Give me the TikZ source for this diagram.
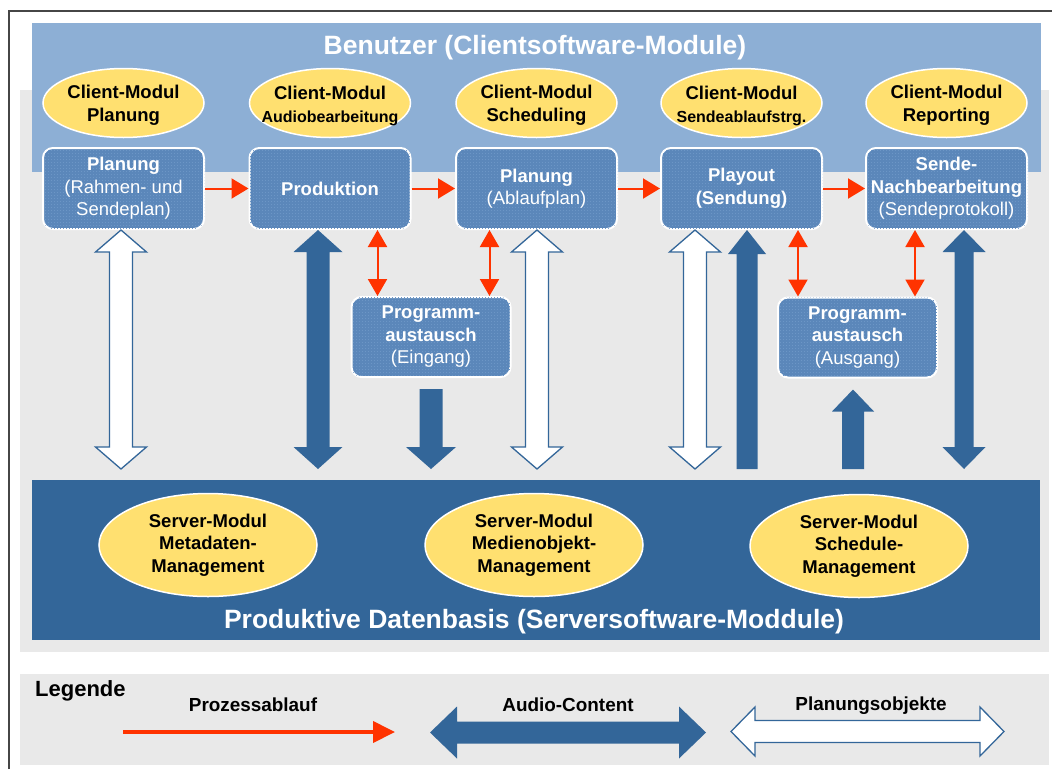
\documentclass[tikz,border=0pt]{standalone}
\usepackage{fontspec}
\setmainfont{Liberation Sans}
\usetikzlibrary{arrows.meta,calc,shapes.geometric,patterns.meta}

\definecolor{topblue}{RGB}{141,175,213}
\definecolor{boxblue}{RGB}{91,135,186}
\definecolor{boxdot}{RGB}{108,150,198}
\definecolor{darkblue}{RGB}{51,102,153}
\definecolor{modyellow}{RGB}{255,224,112}
\definecolor{panelgray}{RGB}{233,233,233}
\definecolor{flowred}{RGB}{255,51,0}
\definecolor{framegray}{RGB}{70,70,70}

% fine dot texture of the step boxes
\tikzdeclarepattern{name=finedots, type=uncolored,
  bounding box={(0pt,0pt) and (2.5pt,2.5pt)}, tile size={(2.5pt,2.5pt)},
  code={\pgfpathrectangle{\pgfpoint{0pt}{0pt}}{\pgfpoint{0.9pt}{0.9pt}}\pgfusepath{fill}}}

% vertical double arrow: style, top point, bottom point, shaft half width, head half width, head length
\newcommand\dblvarrow[6]{%
  \path[#1] let \p1=(#2), \p2=(#3) in
    (\x1,\y1) -- (\x1+#5,\y1-#6) -- (\x1+#4,\y1-#6) -- (\x1+#4,\y2+#6)
    -- (\x1+#5,\y2+#6) -- (\x1,\y2) -- (\x1-#5,\y2+#6) -- (\x1-#4,\y2+#6)
    -- (\x1-#4,\y1-#6) -- (\x1-#5,\y1-#6) -- cycle;}
% vertical arrow pointing down, flat end at the top point
\newcommand\downvarrow[6]{%
  \path[#1] let \p1=(#2), \p2=(#3) in
    (\x1-#4,\y1) -- (\x1+#4,\y1) -- (\x1+#4,\y2+#6) -- (\x1+#5,\y2+#6)
    -- (\x1,\y2) -- (\x1-#5,\y2+#6) -- (\x1-#4,\y2+#6) -- cycle;}
% vertical arrow pointing up, flat end at the bottom point
\newcommand\upvarrow[6]{%
  \path[#1] let \p1=(#2), \p2=(#3) in
    (\x1,\y1) -- (\x1+#5,\y1-#6) -- (\x1+#4,\y1-#6) -- (\x1+#4,\y2)
    -- (\x1-#4,\y2) -- (\x1-#4,\y1-#6) -- (\x1-#5,\y1-#6) -- cycle;}
% horizontal double arrow: style, left point, right point, shaft half height, head half height, head length
\newcommand\dblharrow[6]{%
  \path[#1] let \p1=(#2), \p2=(#3) in
    (\x1,\y1) -- (\x1+#6,\y1+#5) -- (\x1+#6,\y1+#4) -- (\x2-#6,\y1+#4)
    -- (\x2-#6,\y1+#5) -- (\x2,\y1) -- (\x2-#6,\y1-#5) -- (\x2-#6,\y1-#4)
    -- (\x1+#6,\y1-#4) -- (\x1+#6,\y1-#5) -- cycle;}

\tikzset{
  clientmod/.style={ellipse, fill=modyellow, draw=white, line width=1.5pt,
    minimum width=161pt, minimum height=69pt, inner sep=0pt},
  servermod/.style={ellipse, fill=modyellow, draw=white, line width=1.5pt,
    minimum width=218pt, minimum height=103pt, inner sep=0pt},
  modtext/.style={align=center, text=black, inner sep=0pt, yshift=-2.5pt,
    font=\bfseries\fontsize{18.5}{23}\selectfont},
  srvtext/.style={align=center, text=black, inner sep=0pt,
    font=\bfseries\fontsize{18.5}{22.5}\selectfont},
  stepbox/.style={rectangle, rounded corners=10pt, fill=boxblue, draw=white,
    line width=2pt, minimum width=161pt, minimum height=81pt, inner sep=0pt,
    align=center, text=white, font=\fontsize{18.5}{22.5}\selectfont,
    postaction={pattern=finedots, pattern color=boxdot}},
  xchbox/.style={stepbox, minimum width=159pt, minimum height=80pt},
  panelttl/.style={text=white, font=\bfseries\fontsize{26.5}{30}\selectfont, anchor=base},
  flow/.style={draw=flowred, line width=2pt, -{Triangle[length=17pt,width=20pt]}},
  flowdbl/.style={draw=flowred, line width=2pt,
    {Triangle[length=17pt,width=19pt]}-{Triangle[length=17pt,width=19pt]}},
  audio/.style={fill=darkblue},
  planobj/.style={fill=white, draw=darkblue, line width=1.3pt, line join=miter},
  legtext/.style={text=black, anchor=base, font=\bfseries\fontsize{18.9}{22}\selectfont}
}

\begin{document}
\begin{tikzpicture}[x=1pt, y=-1pt]
\useasboundingbox (0,0) rectangle (1052,769);

% backgrounds
\fill[panelgray] (20,90) rectangle (1049,652);
\fill[panelgray] (20,674) rectangle (1049,765);
\draw[framegray, line width=1.5pt] (9,769) -- (9,11) -- (1052,11);

% client side panel
\node[rectangle, fill=topblue, minimum width=1009pt, minimum height=149pt, inner sep=0pt]
  (client) at (536.5,97.5) {};
\node[panelttl] (clientttl) at (535,54) {Benutzer (Clientsoftware-Module)};

% client modules
\node[clientmod, label={[modtext]center:Client-Modul\\Planung}] (cm1) at (123.5,103) {};
\node[clientmod, label={[modtext]center:Client-Modul\\{\fontsize{16}{23}\selectfont Audiobearbeitung}}] (cm2) at (330,103) {};
\node[clientmod, label={[modtext]center:Client-Modul\\Scheduling}] (cm3) at (536.5,103) {};
\node[clientmod, label={[modtext]center:Client-Modul\\{\fontsize{16}{23}\selectfont Sendeablaufstrg.}}] (cm4) at (741.5,103) {};
\node[clientmod, label={[modtext]center:Client-Modul\\Reporting}] (cm5) at (946.5,103) {};

% process steps
\node[stepbox] (b1) at (123.5,188.5) {\textbf{Planung}\\(Rahmen- und\\Sendeplan)};
\node[stepbox] (b2) at (330,188.5) {\textbf{Produktion}};
\node[stepbox] (b3) at (536.5,188.5) {\textbf{Planung}\\(Ablaufplan)};
\node[stepbox] (b4) at (741.5,188.5) {\textbf{Playout}\\\textbf{(Sendung)}};
\node[stepbox] (b5) at (946.5,188.5) {\textbf{Sende-}\\\textbf{Nachbearbeitung}\\(Sendeprotokoll)};

\node[xchbox] (pe) at (431,337) {\textbf{Programm-}\\\textbf{austausch}\\(Eingang)};
\node[xchbox] (pa) at (857.5,337.5) {\textbf{Programm-}\\\textbf{austausch}\\(Ausgang)};

% server side panel
\node[rectangle, fill=darkblue, minimum width=1008pt, minimum height=160pt, inner sep=0pt]
  (db) at (536,560) {};
\coordinate (dbtop) at (536,469);
\node[panelttl] (dbttl) at (534,628) {Produktive Datenbasis (Serversoftware-Moddule)};

\node[servermod, label={[srvtext]center:Server-Modul\\Metadaten-\\Management}] (sm1) at (208,545) {};
\node[servermod, label={[srvtext]center:Server-Modul\\Medienobjekt-\\Management}] (sm2) at (534,545) {};
\node[servermod, label={[srvtext]center:Server-Modul\\Schedule-\\Management}] (sm3) at (859,546) {};

% process flow
\draw[flow] (b1.east) -- (b2.west);
\draw[flow] (b2.east) -- (b3.west);
\draw[flow] (b3.east) -- (b4.west);
\draw[flow] (b4.east) -- (b5.west);

\coordinate (pe1) at ([xshift=27pt]pe.north west);
\coordinate (pe2) at ([xshift=-22pt]pe.north east);
\coordinate (pa1) at ([xshift=21pt]pa.north west);
\coordinate (pa2) at ([xshift=-23pt]pa.north east);
\draw[flowdbl] (pe1 |- b2.south) -- (pe1);
\draw[flowdbl] (pe2 |- b3.south) -- (pe2);
\draw[flowdbl] (pa1 |- b4.south) -- (pa1);
\draw[flowdbl] (pa2 |- b5.south) -- (pa2);

% planning objects
\dblvarrow{planobj}{[xshift=-2.5pt]b1.south}{dbtop}{11.5pt}{25.5pt}{22pt}
\dblvarrow{planobj}{[xshift=0.5pt]b3.south}{dbtop}{11.5pt}{25.5pt}{22pt}
\dblvarrow{planobj}{[xshift=-46.5pt]b4.south}{dbtop}{11.5pt}{25.5pt}{22pt}

% audio content
\dblvarrow{audio}{[xshift=-12pt]b2.south}{dbtop}{11.5pt}{24.5pt}{22pt}
\dblvarrow{audio}{[xshift=17.5pt]b5.south}{dbtop}{9.5pt}{21.5pt}{22pt}
\upvarrow{audio}{[xshift=5.5pt]b4.south}{dbtop}{10.5pt}{19pt}{24pt}
\downvarrow{audio}{[yshift=-11pt]pe.south}{dbtop}{11.5pt}{25pt}{22pt}
\coordinate (pa0) at ([xshift=-4.5pt,yshift=-11pt]pa.south);
\upvarrow{audio}{pa0}{dbtop}{11pt}{21pt}{22pt}

% legend
\node[anchor=base west, text=black, inner sep=0pt, font=\bfseries\fontsize{22}{24}\selectfont]
  (legttl) at (35,696) {Legende};
\node[legtext] (lgflow) at (253,711) {Prozessablauf};
\node[legtext] (lgaudio) at (568,711) {Audio-Content};
\node[legtext] (lgplan) at (871,710) {Planungsobjekte};
\coordinate (lf1) at (123,732);
\coordinate (lf2) at (395,732);
\draw[draw=flowred, line width=4pt, -{Triangle[length=22pt,width=21pt]}] (lf1) -- (lf2);
\coordinate (la1) at (430,732.5);
\coordinate (la2) at (706,732.5);
\dblharrow{audio}{la1}{la2}{11pt}{26pt}{27pt}
\coordinate (lp1) at (731,731.5);
\coordinate (lp2) at (1004,731.5);
\dblharrow{planobj}{lp1}{lp2}{11pt}{24.5pt}{24pt}
\end{tikzpicture}
\end{document}
